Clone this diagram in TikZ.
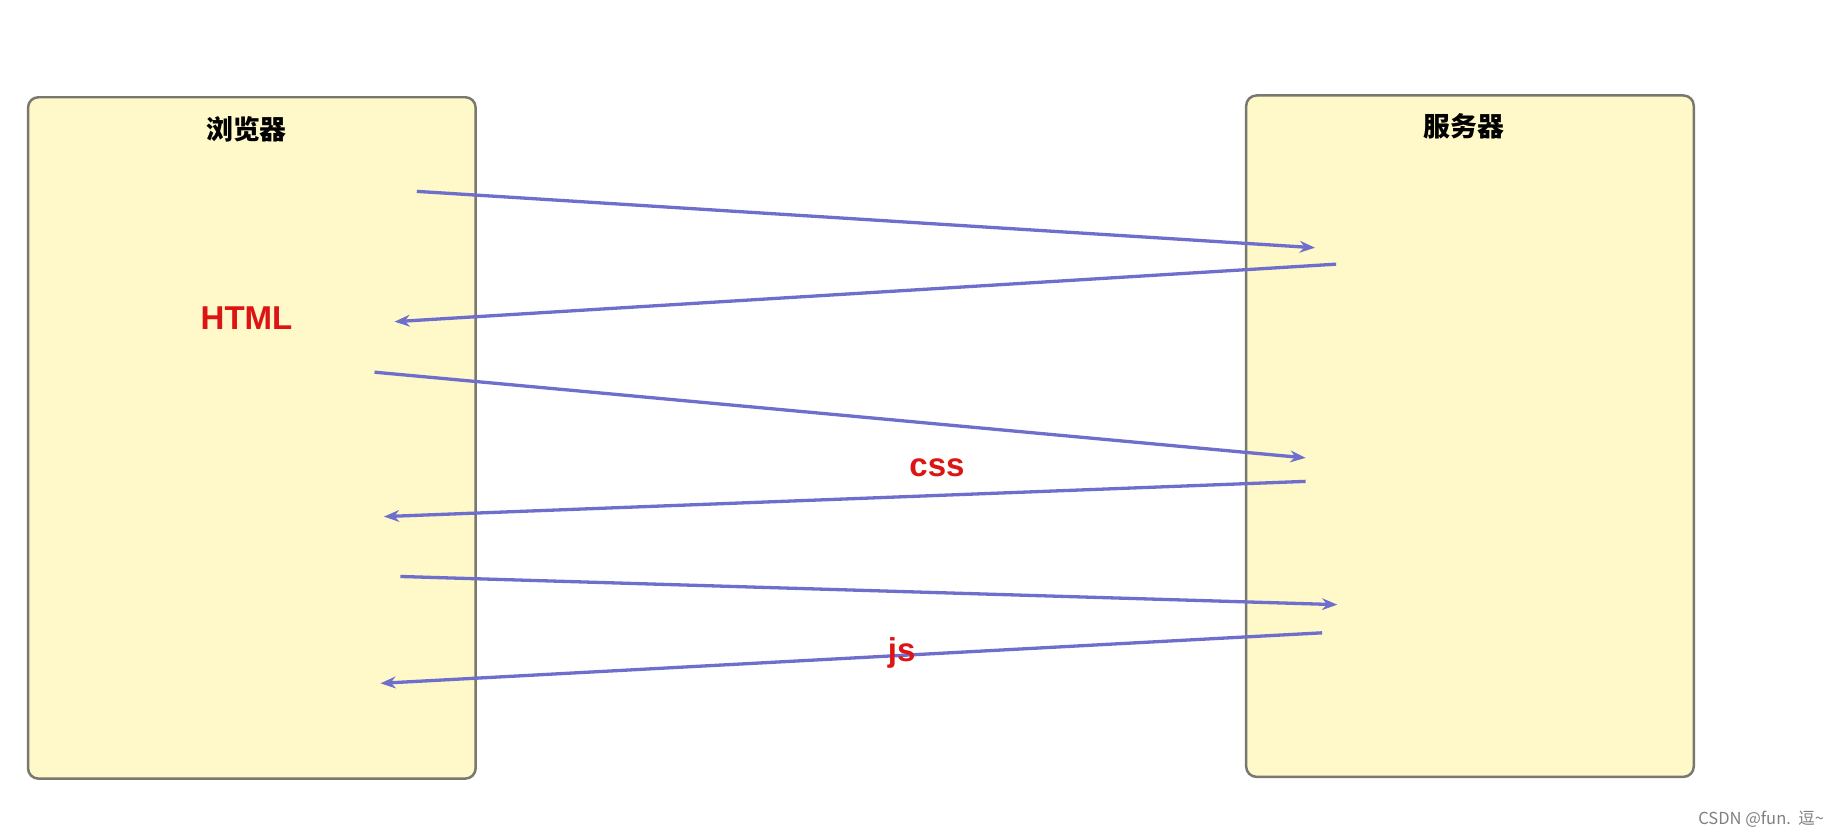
\documentclass[tikz,border=0pt]{standalone}
\usepackage{fontspec}
\setmainfont{Liberation Sans}
\newfontfamily\cjk{Noto Sans CJK SC}
\usepackage{tikz}
\usetikzlibrary{arrows.meta,positioning,calc}
\definecolor{boxfill}{RGB}{255,248,200}
\definecolor{boxline}{RGB}{120,120,110}
\definecolor{msgline}{RGB}{110,110,205}
\definecolor{msgtip}{RGB}{20,20,200}
\definecolor{lblred}{RGB}{220,20,20}
\begin{document}
\begin{tikzpicture}[
  x=0.01cm, y=-0.01cm,
  panel/.style={rectangle, rounded corners=2.5pt, draw=boxline, line width=0.6pt, fill=boxfill, minimum width=3.81cm, minimum height=5.8cm},
  title/.style={font=\cjk\bfseries\fontsize{6.5}{8}\selectfont},
  msg/.style={-{Stealth[length=1.3mm,width=1mm,fill=msgtip]}, draw=msgline, line width=0.8pt},
  tag/.style={font=\bfseries\fontsize{8}{10}\selectfont, text=lblred}
]
\useasboundingbox (0,0) rectangle (1568,713);

\node[panel] (browser) at (214.5,373) {};
\node[panel] (server) at (1252,371.5) {};
\node[title] (btitle) at (210,110) {浏览器};
\node[title] (stitle) at (1247,108) {服务器};

% request / response endpoints
\coordinate (r1s) at (355,163);  \coordinate (r1e) at (1120,211);
\coordinate (a1s) at (1138,225); \coordinate (a1e) at (336,274);
\coordinate (r2s) at (319,317);  \coordinate (r2e) at (1112,390);
\coordinate (a2s) at (1112,410); \coordinate (a2e) at (327,440);
\coordinate (r3s) at (341,491);  \coordinate (r3e) at (1139,515);
\coordinate (a3s) at (1126,539); \coordinate (a3e) at (324,582);

\draw[msg] (r1s) -- (r1e);
\draw[msg] (a1s) -- (a1e);
\draw[msg] (r2s) -- (r2e);
\draw[msg] (a2s) -- (a2e);
\draw[msg] (r3s) -- (r3e);
\draw[msg] (a3s) -- (a3e);

\node[tag] (html) at (210,271) {HTML};
\node[tag] (css) at (798,398) {css};
\node[tag] (js) at (768,556) {js};

\node[font=\cjk\fontsize{4}{5}\selectfont, text=gray] (mark) at (1500,698) {CSDN @fun.\ \ 逗\textasciitilde};
\end{tikzpicture}
\end{document}
